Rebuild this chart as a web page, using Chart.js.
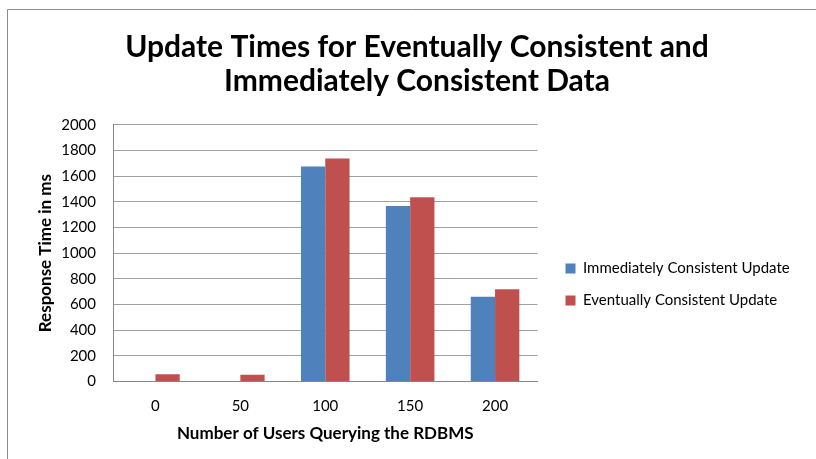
<!DOCTYPE html>
<html>
<head>
<meta charset="utf-8">
<script src="https://cdn.jsdelivr.net/npm/chart.js@4/dist/chart.umd.min.js"></script>
<style>
	html, body { margin: 0; padding: 0; background: #ffffff; }
	canvas { display: block; }
</style>
</head>
<body>
<canvas id="chart_canvas" width="816" height="459"></canvas>
<script>
var categories = ['0', '50', '100', '150', '200'];
var immediateUpdate = [0, 0, 1675, 1368, 661];
var eventualUpdate = [57, 52, 1737, 1435, 718];
var seriesNames = ['Immediately Consistent Update', 'Eventually Consistent Update'];
var titleLines = ['Update Times for Eventually Consistent and', 'Immediately Consistent Data'];

var FONT = "Lato, 'Open Sans', sans-serif";
var BLUE = '#4f81bd';
var RED = '#c0504d';

/**
 * white background plus the grey chart frame (top and left edges are visible)
 */
var framePlugin = {
	id: 'frame',
	beforeDraw: function(chart) {
		var ctx = chart.ctx;
		ctx.save();
		ctx.fillStyle = '#ffffff';
		ctx.fillRect(0, 0, chart.width, chart.height);
		ctx.strokeStyle = '#8c8c8c';
		ctx.lineWidth = 1;
		ctx.beginPath();
		ctx.moveTo(7.5, chart.height);
		ctx.lineTo(7.5, 9.5);
		ctx.lineTo(chart.width, 9.5);
		ctx.stroke();
		ctx.restore();
	}
};

/**
 * fixes the legend width so the plot ends where it does in excel,
 * then nudges the legend items to their place
 */
var legendPlugin = {
	id: 'legendFix',
	beforeLayout: function(chart) {
		var lg = chart.legend;
		if (lg && !lg._fixed) {
			var origFit = lg.fit.bind(lg);
			lg.fit = function() {
				origFit();
				this.width = 278.5;
			};
			lg._fixed = true;
		}
	},
	afterLayout: function(chart) {
		var lg = chart.legend;
		lg.left += 11;
		lg.right += 11;
		lg.top += 55;
		lg.bottom += 55;
	}
};

// plain numbers on the value axis, no thousands separator
function plainTick(value) {
	return String(value);
}

var ctx = document.getElementById('chart_canvas').getContext('2d');
var myChart = new Chart(ctx, {
	type: 'bar',
	data: {
		labels: categories,
		datasets: [{
			label: seriesNames[0],
			data: immediateUpdate,
			backgroundColor: BLUE,
			borderWidth: 0
		}, {
			label: seriesNames[1],
			data: eventualUpdate,
			backgroundColor: RED,
			borderWidth: 0
		}]
	},
	options: {
		responsive: false,
		animation: false,
		categoryPercentage: 0.572,
		barPercentage: 1,
		layout: { padding: { left: 18, right: 0, top: 0, bottom: 0 } },
		plugins: {
			tooltip: { enabled: false },
			title: {
				display: true,
				text: titleLines,
				color: '#000000',
				font: { family: FONT, size: 30, weight: 'bold', lineHeight: 1.13 },
				padding: { top: 30, bottom: 27 }
			},
			legend: {
				position: 'right',
				labels: {
					color: '#000000',
					font: { family: FONT, size: 15 },
					boxWidth: 10,
					boxHeight: 10,
					padding: 17
				}
			}
		},
		scales: {
			x: {
				grid: { display: false, drawTicks: false },
				border: { display: true, color: '#868686', width: 1 },
				ticks: { color: '#000000', font: { family: FONT, size: 15 }, padding: 16 },
				title: {
					display: true,
					text: 'Number of Users Querying the RDBMS',
					color: '#000000',
					font: { family: FONT, size: 17, weight: 'bold' },
					padding: { top: 0, bottom: 15 }
				},
				afterFit: function(scale) { scale.height = 77.5; }
			},
			y: {
				min: 0,
				max: 2000,
				grid: { color: '#a0a0a0', drawTicks: false },
				border: { display: true, color: '#868686', width: 1 },
				ticks: { stepSize: 200, color: '#000000', font: { family: FONT, size: 15 }, padding: 17, callback: plainTick },
				title: {
					display: true,
					text: 'Response Time in ms',
					color: '#000000',
					font: { family: FONT, size: 17, weight: 'bold' },
					padding: { top: 17, bottom: 0 }
				},
				afterFit: function(scale) { scale.width = 95; }
			}
		}
	},
	plugins: [framePlugin, legendPlugin]
});
</script>
</body>
</html>
